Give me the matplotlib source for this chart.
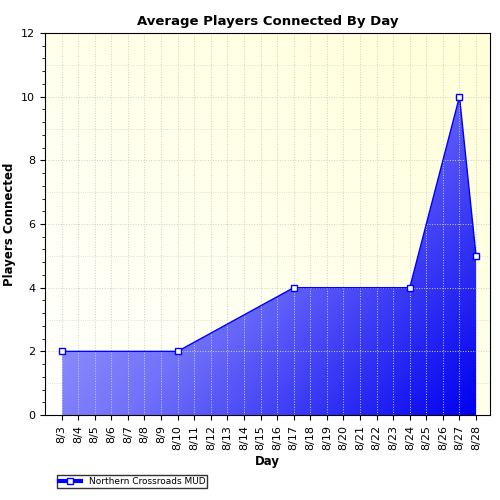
import numpy as np
import matplotlib
matplotlib.use("Agg")
import matplotlib.pyplot as plt
from matplotlib.patches import Polygon
from matplotlib.colors import LinearSegmentedColormap
from matplotlib.lines import Line2D

days = [3, 10, 17, 24, 27, 28]
players = [2, 2, 4, 4, 10, 5]
tick_days = list(range(3, 29))
tick_labels = [f"8/{d}" for d in tick_days]
series_name = "Northern Crossroads MUD"

fig = plt.figure(figsize=(5, 5), dpi=100)
ax = fig.add_axes([0.09, 0.17, 0.89, 0.764])
xmin, xmax, ymin, ymax = 2, 28.84, 0, 12
ax.set_xlim(xmin, xmax); ax.set_ylim(ymin, ymax)

bg = LinearSegmentedColormap.from_list("bg", ["#ffffff", "#ffffd8"])
gx = np.linspace(0, 1, 300)
gy = np.linspace(0, 1, 300)
G = (gx[None, :] + gy[:, None]) / 2
ax.imshow(G, extent=[xmin, xmax, ymin, ymax], origin="lower", cmap=bg, aspect="auto", zorder=0)

ax.set_xticks(tick_days)
ax.set_xticklabels(tick_labels, rotation=90, fontsize=8)
ax.set_yticks(range(0, 13, 2))
ax.tick_params(axis="y", labelsize=8)
ax.set_yticks(np.arange(0, 12.01, 0.4), minor=True)
ax.grid(True, which="major", linestyle=":", color="#d0d0c0", linewidth=0.7)
for y in np.arange(1, 12.01, 2):
    ax.axhline(y, linestyle=":", color="#d8d8c8", linewidth=0.6, zorder=0.5)

# diagonal gradient: light top-left -> dark blue bottom-right
fill = LinearSegmentedColormap.from_list("fill", ["#b8b8fa", "#7070fa", "#0000f0"])
F = (gx[None, :] * 0.6 + (1 - gy[:, None]) * 0.4)
im = ax.imshow(F, extent=[days[0], days[-1], 0, max(players)], origin="lower",
               cmap=fill, aspect="auto", zorder=1)
poly = Polygon(list(zip(days, players)) + [(days[-1], 0), (days[0], 0)], closed=True,
               facecolor="none", edgecolor="none", transform=ax.transData)
ax.add_patch(poly)
im.set_clip_path(poly)

ax.plot(days, players, color="#0000ff", linewidth=1, marker="s", markersize=4,
        markerfacecolor="white", markeredgecolor="#0000ff", zorder=3)

ax.set_title("Average Players Connected By Day", fontsize=9.5, fontweight="bold")
ax.set_xlabel("Day", fontsize=8.5, fontweight="bold")
ax.set_ylabel("Players Connected", fontsize=8.5, fontweight="bold")

handle = Line2D([], [], color="#0000ff", linewidth=3, marker="s", markersize=5,
                markerfacecolor="white", markeredgecolor="#0000ff")
fig.legend([handle], [series_name], loc="lower left", bbox_to_anchor=(0.105, 0.015),
           fontsize=6.5, frameon=True, fancybox=False, edgecolor="black",
           borderpad=0.2, handlelength=2.5)

fig.savefig("out.png", dpi=100)
